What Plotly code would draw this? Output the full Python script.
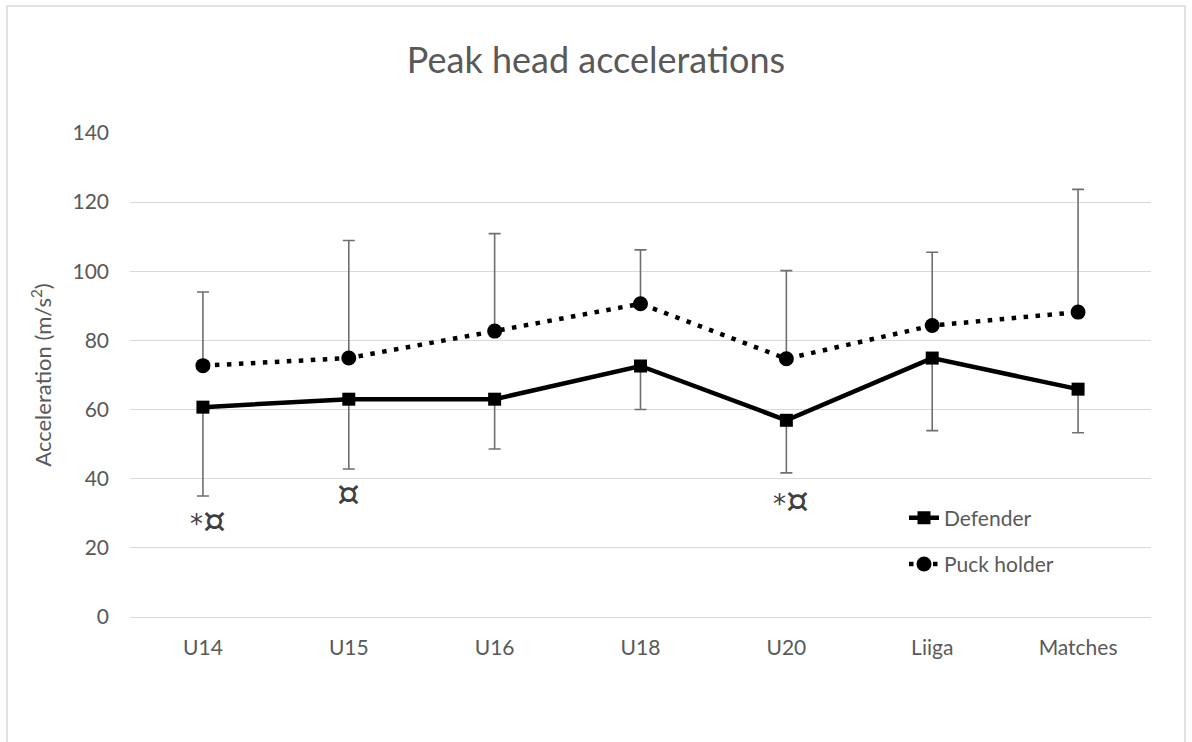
import plotly.graph_objects as go

# Age groups / sessions on the category axis
groups = ["U14", "U15", "U16", "U18", "U20", "Liiga", "Matches"]

# Mean peak head acceleration (m/s²) and one-sided SD bars
defender_mean = [60.7, 63.0, 63.0, 72.6, 56.9, 74.9, 65.9]
defender_sd = [25.7, 20.2, 14.4, 12.6, 15.2, 21.0, 12.6]
puck_mean = [72.7, 74.9, 82.7, 90.6, 74.7, 84.3, 88.2]
puck_sd = [21.3, 34.0, 28.2, 15.6, 25.5, 21.2, 35.5]

# Significance markers below selected groups
marker_groups = ["U14", "U15", "U20"]
marker_texts = ["*¤", "¤", "*¤"]
marker_y = [27.8, 35.8, 33.8]

y_ticks = [0, 20, 40, 60, 80, 100, 120, 140]

FONT = "Lato, 'Open Sans', sans-serif"
TXT = "#595959"
GRID = "#d9d9d9"
ERR = "#6f6f6f"

fig = go.Figure()

fig.add_trace(go.Scatter(
    x=groups, y=defender_mean, name="Defender", mode="lines+markers",
    line=dict(color="black", width=4.5),
    marker=dict(symbol="square", size=13, color="black"),
    error_y=dict(type="data", symmetric=False,
                 array=[0] * len(defender_sd), arrayminus=defender_sd,
                 color=ERR, thickness=1.6, width=6),
    legendgroup="d",
))

fig.add_trace(go.Scatter(
    x=groups, y=puck_mean, name="Puck holder", mode="lines+markers",
    line=dict(color="black", width=4.5, dash="4.5px,7.5px"),
    marker=dict(symbol="circle", size=15, color="black"),
    error_y=dict(type="data", symmetric=False,
                 array=puck_sd, arrayminus=[0] * len(puck_sd),
                 color=ERR, thickness=1.6, width=6),
    legendgroup="p",
))

# The currency-sign glyph is drawn larger than the asterisk
for g, t, yv in zip(marker_groups, marker_texts, marker_y):
    label = t.replace("¤", "<span style='font-size:36px'>¤</span>")
    fig.add_annotation(x=g, y=yv, text=label, showarrow=False,
                       xshift=5 if t.startswith("*") else 0,
                       font=dict(family="DejaVu Sans", size=26,
                                 color="#404040"))

# Outer chart border
fig.add_shape(type="rect", xref="paper", yref="paper",
              x0=(7 - 130) / 1021, x1=(1185 - 130) / 1021,
              y0=-0.4, y1=(617 - 6) / 484,
              line=dict(color=GRID, width=1.5), layer="below")

fig.update_layout(
    width=1192, height=742,
    margin=dict(l=130, r=41, t=133, b=125),
    paper_bgcolor="white", plot_bgcolor="white",
    font=dict(family=FONT, color=TXT, size=21),
    title=dict(text="Peak head accelerations", x=0.5, xanchor="center",
               y=(742 - 60) / 742, yanchor="middle",
               font=dict(family=FONT, size=36, color=TXT)),
    showlegend=True,
    legend=dict(x=(904 - 130) / 1021, xanchor="left",
                y=(617 - 541) / 484, yanchor="middle",
                bgcolor="rgba(0,0,0,0)", tracegroupgap=16,
                traceorder="grouped",
                font=dict(family=FONT, size=21, color=TXT)),
)

fig.update_xaxes(type="category", range=[-0.5, 6.5], showgrid=False,
                 showline=True, linecolor=GRID, linewidth=1.3,
                 ticks="", ticklabelstandoff=12,
                 tickfont=dict(family=FONT, size=21, color=TXT))
fig.update_yaxes(range=[0, 140], tickvals=y_ticks, showgrid=True,
                 gridcolor=GRID, gridwidth=1.3, zeroline=False,
                 showline=False, ticks="", ticklabelstandoff=20,
                 tickfont=dict(family=FONT, size=21, color=TXT),
                 title=dict(text="Acceleration (m/s<sup>2</sup>)",
                            standoff=14,
                            font=dict(family=FONT, size=22, color=TXT)))

fig.write_html("out.html")
